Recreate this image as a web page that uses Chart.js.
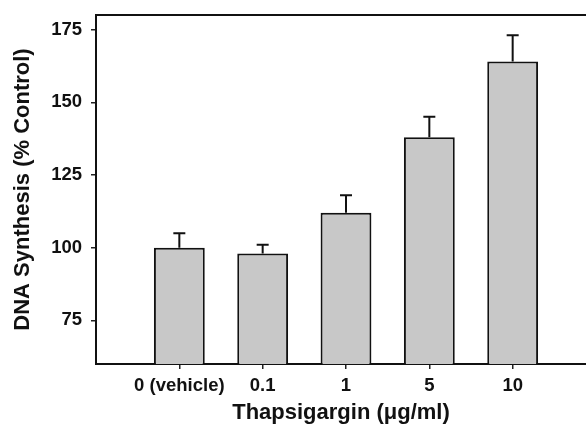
<!DOCTYPE html>
<html>
<head>
<meta charset="utf-8">
<script src="https://cdn.jsdelivr.net/npm/chart.js@4.4.1/dist/chart.umd.min.js"></script>
<style>
html,body{margin:0;padding:0;background:#fff;}
#wrap{width:586px;height:429px;position:relative;}
</style>
</head>
<body>
<div id="wrap"><canvas id="c" width="586" height="429"></canvas></div>
<script>
const categories = ['0 (vehicle)', '0.1', '1', '5', '10'];
const values = [100, 98, 112, 138, 164];
const errors = [5, 3, 6, 7, 9];
const yTicks = [75, 100, 125, 150, 175];
const yMin = 60, yMax = 180;
const xMin = 0, xMax = 5.88;

const errorBars = {
  id: 'errorBars',
  afterDatasetsDraw(chart) {
    const ctx = chart.ctx, xs = chart.scales.x, ys = chart.scales.y;
    ctx.save();
    ctx.strokeStyle = '#111';
    ctx.lineWidth = 2;
    values.forEach((v, i) => {
      const x = xs.getPixelForValue(i + 1);
      const y0 = ys.getPixelForValue(v);
      const y1 = ys.getPixelForValue(v + errors[i]);
      ctx.beginPath();
      ctx.moveTo(x, y0); ctx.lineTo(x, y1);
      ctx.moveTo(x - 6, y1); ctx.lineTo(x + 6, y1);
      ctx.stroke();
    });
    const a = chart.chartArea;
    ctx.beginPath();
    ctx.moveTo(a.left - 1, a.top);
    ctx.lineTo(a.right, a.top);
    ctx.stroke();
    ctx.restore();
  }
};

new Chart(document.getElementById('c'), {
  type: 'bar',
  data: {
    datasets: [{
      data: values.map((v, i) => ({x: i + 1, y: v})),
      backgroundColor: '#c8c8c8',
      borderColor: '#111',
      borderWidth: 2,
      barPercentage: 0.61,
      categoryPercentage: 1
    }]
  },
  options: {
    responsive: false,
    animation: false,
    layout: {padding: {top: 15, left: 0, right: 0, bottom: 0}},
    plugins: {legend: {display: false}, tooltip: {enabled: false}},
    scales: {
      x: {
        type: 'linear',
        offset: false,
        min: xMin, max: xMax,
        afterBuildTicks: s => { s.ticks = categories.map((c, i) => ({value: i + 1})); },
        afterFit: s => { s.height = 65; s.paddingLeft = 0; s.paddingRight = 0; },
        grid: {display: true, offset: false, drawOnChartArea: false, drawTicks: true, tickLength: 5, color: '#222', lineWidth: 1.5},
        border: {display: true, color: '#111', width: 2},
        ticks: {
          callback: v => categories[Math.round(v) - 1],
          font: {family: 'Liberation Sans', weight: 'bold', size: 18.5},
          color: '#111', padding: 6, maxRotation: 0, autoSkip: false
        },
        title: {
          display: true, text: 'Thapsigargin (\u03bcg/ml)',
          font: {family: 'Liberation Sans', weight: 'bold', size: 22},
          color: '#111', padding: {top: 0, bottom: 3}
        }
      },
      y: {
        min: yMin, max: yMax,
        afterBuildTicks: s => { s.ticks = yTicks.map(v => ({value: v})); },
        afterFit: s => { s.width = 96; s.paddingTop = 0; s.paddingBottom = 0; },
        grid: {display: true, drawOnChartArea: false, drawTicks: true, tickLength: 5, color: '#222', lineWidth: 1.5},
        border: {display: true, color: '#111', width: 2},
        ticks: {
          font: {family: 'Liberation Sans', weight: 'bold', size: 18.5},
          color: '#111', padding: 9
        },
        title: {
          display: true, text: 'DNA Synthesis (% Control)',
          font: {family: 'Liberation Sans', weight: 'bold', size: 22},
          color: '#111', padding: {top: 10, bottom: 0}
        }
      }
    }
  },
  plugins: [errorBars]
});
</script>
</body>
</html>
